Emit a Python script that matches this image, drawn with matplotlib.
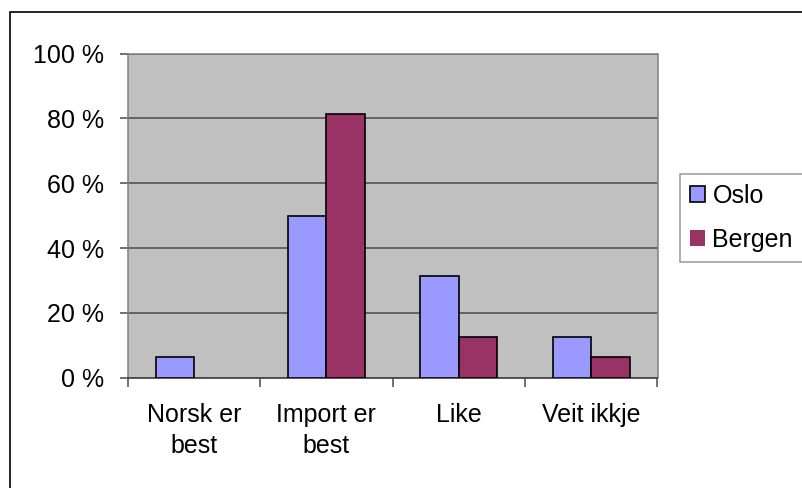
import matplotlib
matplotlib.use("Agg")
import matplotlib.pyplot as plt
import numpy as np
from matplotlib.patches import Rectangle

plt.rcParams['font.family'] = ['Liberation Sans', 'DejaVu Sans']

kategorier = ['Norsk er\nbest', 'Import er\nbest', 'Like', 'Veit ikkje']
oslo = [6.25, 50, 31.25, 12.5]
bergen = [0, 81.25, 12.5, 6.25]
y_ticks = [0, 20, 40, 60, 80, 100]
y_labels = ['0 %', '20 %', '40 %', '60 %', '80 %', '100 %']

W, H = 803, 488
fs = 18
fig = plt.figure(figsize=(W / 100, H / 100), dpi=100)

# outer chart frame (runs off right/bottom edge like the original)
fig.patches.append(Rectangle((10 / W, -0.05), 1.0, 1 - 11.5 / H + 0.05,
                             transform=fig.transFigure, fill=False,
                             edgecolor='black', linewidth=1.2))

ax = fig.add_axes([127.7 / W, 1 - 377.7 / H, (657.5 - 127.7) / W, (377.7 - 53.5) / H])
ax.set_facecolor('#C0C0C0')

x = np.arange(len(kategorier))
w = 0.29
# no outline on empty bars (Excel draws nothing there)
lw_o = [1.2 if v > 0 else 0 for v in oslo]
lw_b = [1.2 if v > 0 else 0 for v in bergen]
ax.bar(x - w / 2, oslo, w, color='#9999FF', edgecolor='black', linewidth=lw_o,
       label='Oslo', zorder=3)
ax.bar(x + w / 2, bergen, w, color='#993366', edgecolor='black', linewidth=lw_b,
       label='Bergen', zorder=3)

ax.set_ylim(0, 100)
ax.set_xlim(-0.5, 3.5)
ax.set_yticks(y_ticks)
ax.set_yticklabels(y_labels, fontsize=fs)
ax.yaxis.grid(True, color='#4a4a4a', linewidth=1.1, zorder=1)
ax.set_axisbelow(True)

ax.set_xticks(x)
ax.set_xticklabels(kategorier, fontsize=fs, linespacing=1.4)
ax.set_xticks(np.arange(-0.5, 4, 1), minor=True)
ax.tick_params(axis='x', which='major', length=0, pad=18)
ax.tick_params(axis='x', which='minor', length=6.5, width=1.1, color='#4a4a4a', direction='out')
ax.tick_params(axis='y', length=5.8, width=1.1, color='#4a4a4a', pad=11)

for side in ['left', 'right', 'top']:
    ax.spines[side].set_color('#808080')
    ax.spines[side].set_linewidth(1.1)
ax.spines['bottom'].set_color('#4a4a4a')
ax.spines['bottom'].set_linewidth(1.3)

leg = fig.legend(loc='upper left', bbox_to_anchor=(680 / W, 1 - 173.7 / H),
                 fontsize=fs, frameon=True, fancybox=False, shadow=False,
                 handlelength=0.6, handleheight=0.65, handletextpad=0.3,
                 borderpad=0.4, labelspacing=0.8, borderaxespad=0)
leg.get_frame().set_edgecolor('#808080')
leg.get_frame().set_linewidth(1.1)

fig.savefig('out.png', dpi=100)
